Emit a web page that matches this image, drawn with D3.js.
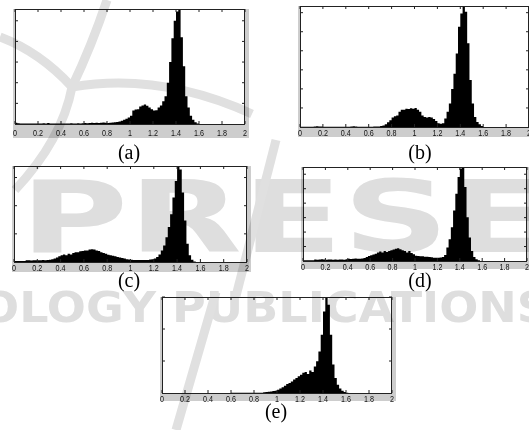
<!DOCTYPE html>
<html lang="en">
<head>
<meta charset="utf-8">
<title>Histograms (a)-(e)</title>
<style>
  body { margin: 0; background: #fff; }
  .tick-label { font-family: "Liberation Sans", Arial, sans-serif; font-size: 9px; fill: #111; }
  .caption { font-family: "Liberation Serif", "Times New Roman", serif; font-size: 20px; fill: #000; }
  .mark { font-family: "DejaVu Sans", sans-serif; font-weight: bold; fill: #dedede; }
</style>
</head>
<body>
<script src="https://cdn.jsdelivr.net/npm/d3@7/dist/d3.min.js"></script>
<script>

// bin width of every histogram, bins start at 0
var binWidth = 0.02;

var xTickLabels = ["0", "0.2", "0.4", "0.6", "0.8", "1", "1.2", "1.4", "1.6", "1.8", "2"];
var captions = ["(a)", "(b)", "(c)", "(d)", "(e)"];

// bin heights, in units of the (unlabelled) y tick step
var histA = [0.06,0.04,0.03,0.03,0.02,0.03,0.02,0.03,0.02,0.03,
             0.02,0.02,0.04,0.03,0.05,0.03,0.03,0.02,0.03,0.02,
             0.03,0.03,0.02,0.03,0.04,0.03,0.03,0.04,0.03,0.04,
             0.05,0.04,0.05,0.06,0.05,0.06,0.05,0.06,0.07,0.06,
             0.05,0.06,0.07,0.08,0.1,0.12,0.16,0.2,0.26,0.32,
             0.4,0.65,0.7,0.72,0.85,0.9,0.95,0.88,0.8,0.72,
             0.65,0.67,0.8,0.9,1.1,1.35,2.0,3.0,4.15,5.0,
             5.45,5.57,4.2,2.8,1.35,0.8,0.4,0.2,0.08,0.02];

var histB = [0.01,0.01,0.01,0.01,0.01,0.01,0.02,0.04,0.03,0.02,
             0.01,0.01,0.01,0.01,0.01,0.01,0.01,0.01,0.01,0.01,
             0.01,0.01,0.02,0.04,0.02,0.01,0.01,0.01,0.01,0.01,
             0.01,0.01,0.02,0.02,0.03,0.05,0.08,0.14,0.25,0.35,
             0.5,0.56,0.6,0.8,0.9,0.9,0.96,0.95,0.98,0.96,
             1.0,0.9,0.8,0.6,0.53,0.5,0.53,0.5,0.42,0.32,
             0.2,0.17,0.2,0.44,0.8,1.23,2.0,2.8,3.86,5.26,
             5.96,6.35,6.05,4.4,2.46,1.23,0.53,0.26,0.14,0.05];

var histC = [0.035,0.035,0.035,0.035,0.035,0.06,0.06,0.05,0.06,0.06,
             0.06,0.06,0.07,0.06,0.07,0.08,0.1,0.12,0.16,0.2,
             0.24,0.27,0.24,0.29,0.27,0.32,0.35,0.35,0.38,0.39,
             0.41,0.41,0.44,0.45,0.44,0.41,0.39,0.35,0.32,0.29,
             0.26,0.24,0.22,0.2,0.18,0.16,0.14,0.12,0.1,0.09,
             0.08,0.07,0.07,0.07,0.07,0.07,0.07,0.07,0.09,0.1,
             0.12,0.18,0.27,0.41,0.59,0.88,1.24,1.7,2.29,2.88,
             3.41,3.29,2.47,1.47,0.65,0.24,0.08,0.02];

var histD = [0.05,0.05,0.05,0.05,0.05,0.1,0.08,0.1,0.12,0.1,
             0.09,0.11,0.1,0.08,0.1,0.09,0.11,0.1,0.09,0.12,
             0.16,0.14,0.16,0.18,0.15,0.16,0.17,0.2,0.28,0.34,
             0.4,0.45,0.51,0.58,0.65,0.58,0.7,0.63,0.7,0.74,
             0.79,0.84,0.88,0.81,0.74,0.7,0.58,0.7,0.56,0.47,
             0.37,0.35,0.33,0.32,0.3,0.29,0.28,0.26,0.23,0.23,
             0.23,0.24,0.28,0.42,0.93,1.51,2.33,3.49,4.65,5.81,
             6.4,6.5,5.12,3.02,1.63,0.7,0.28,0.12,0.05];

var histE = [0,0,0,0,0,0,0,0,0,0,
             0,0,0,0,0,0,0,0,0,0,
             0,0,0,0,0,0,0,0,0,0,
             0.01,0.01,0.01,0.01,0.01,0.01,0.01,0.01,0.01,0.01,
             0.01,0.01,0.01,0.01,0.02,0.03,0.04,0.05,0.06,0.07,
             0.1,0.14,0.18,0.23,0.28,0.31,0.36,0.42,0.47,0.52,
             0.57,0.63,0.66,0.59,0.7,0.66,0.83,0.99,1.3,1.82,
             2.55,3.0,2.76,1.82,0.89,0.47,0.26,0.14,0.07,0.03,
             0.01];

var series = [histA, histB, histC, histD, histE];

// where each sub-figure sits on the page
var boxes = [
    { left: 15,  right: 245, top: 9,   bottom: 124, band: 14, labelDy: 12, capX: 129, capY: 159 },
    { left: 300, right: 529, top: 6,   bottom: 127, band: 10, labelDy: 9,  capX: 420, capY: 159 },
    { left: 14,  right: 247, top: 166, bottom: 262, band: 10, labelDy: 9,  capX: 129, capY: 287 },
    { left: 303, right: 527, top: 167, bottom: 261, band: 8,  labelDy: 9,  capX: 420, capY: 287 },
    { left: 162, right: 392, top: 297, bottom: 393, band: 8,  labelDy: 9,  capX: 276, capY: 418 }
];

var W = 529, H = 430;

var svg = d3.select("body").append("svg")
    .attr("width", W)
    .attr("height", H);

svg.append("rect").attr("width", W).attr("height", H).attr("fill", "#fff");

series.forEach(function (values, k) {
    var b = boxes[k];

    var x = d3.scaleLinear().domain([0, 2]).range([b.left, b.right]);
    var y = d3.scaleLinear().domain([0, d3.max(values)]).range([b.bottom, b.top]);

    var g = svg.append("g");

    // grey figure background around the axes
    g.append("rect")
        .attr("x", b.left - 2)
        .attr("y", b.top)
        .attr("width", b.right - b.left + 6)
        .attr("height", b.bottom - b.top + b.band)
        .attr("fill", "#cdcdcd");

    g.append("rect")
        .attr("x", b.left)
        .attr("y", b.top)
        .attr("width", b.right - b.left)
        .attr("height", b.bottom - b.top)
        .attr("fill", "#fff");

    var pts = values.map(function (v, i) { return [i * binWidth, v]; });
    pts.push([values.length * binWidth, 0]);

    var area = d3.area()
        .curve(d3.curveStepAfter)
        .x(function (d) { return x(d[0]); })
        .y0(y(0))
        .y1(function (d) { return y(d[1]); });

    g.append("path")
        .datum(pts)
        .attr("d", area)
        .attr("fill", "#000");

    // ticks on all four sides, pointing in
    var xt = xTickLabels.map(Number);
    var yt = d3.range(1, Math.floor(d3.max(values)) + 1);
    var tl = 3;

    g.selectAll(".xb").data(xt).enter().append("line")
        .attr("x1", function (d) { return x(d); }).attr("x2", function (d) { return x(d); })
        .attr("y1", b.bottom).attr("y2", b.bottom - tl)
        .attr("stroke", "#222");
    g.selectAll(".xt").data(xt).enter().append("line")
        .attr("x1", function (d) { return x(d); }).attr("x2", function (d) { return x(d); })
        .attr("y1", b.top).attr("y2", b.top + tl)
        .attr("stroke", "#222");
    g.selectAll(".yl").data(yt).enter().append("line")
        .attr("x1", b.left).attr("x2", b.left + tl)
        .attr("y1", function (d) { return y(d); }).attr("y2", function (d) { return y(d); })
        .attr("stroke", "#222");
    g.selectAll(".yr").data(yt).enter().append("line")
        .attr("x1", b.right).attr("x2", b.right - tl)
        .attr("y1", function (d) { return y(d); }).attr("y2", function (d) { return y(d); })
        .attr("stroke", "#222");

    g.append("rect")
        .attr("x", b.left + 0.5)
        .attr("y", b.top + 0.5)
        .attr("width", b.right - b.left - 1)
        .attr("height", b.bottom - b.top)
        .attr("fill", "none")
        .attr("stroke", "#222");

    g.selectAll(".tick-label").data(xTickLabels).enter().append("text")
        .attr("class", "tick-label")
        .attr("text-anchor", "middle")
        .attr("transform", function (d) {
            return "translate(" + x(+d) + "," + (b.bottom + b.labelDy) + ") scale(0.8,1)";
        })
        .text(function (d) { return d; });

    svg.append("text")
        .attr("class", "caption")
        .attr("x", b.capX)
        .attr("y", b.capY)
        .attr("text-anchor", "middle")
        .text(captions[k]);
});

// faint publisher watermark laid over the page
var wm = svg.append("g").style("mix-blend-mode", "multiply");

wm.append("text")
    .attr("class", "mark")
    .attr("x", 20).attr("y", 252)
    .attr("font-size", 100)
    .attr("textLength", 530)
    .attr("lengthAdjust", "spacingAndGlyphs")
    .text("PRESE");

wm.append("text")
    .attr("class", "mark")
    .attr("x", -20).attr("y", 322)
    .attr("font-size", 42)
    .attr("textLength", 570)
    .attr("lengthAdjust", "spacingAndGlyphs")
    .text("OLOGY PUBLICATIONS");

var arcs = ["M0,37 Q40,52 72,87", "M72,87 Q160,72 252,114", "M72,87 Q92,45 107,0",
            "M72,87 Q62,140 15,190", "M276,140 L236,296", "M216,292 L176,430"];
wm.selectAll("path").data(arcs).enter().append("path")
    .attr("d", function (d) { return d; })
    .attr("fill", "none")
    .attr("stroke", "#e0e0e0")
    .attr("stroke-width", 9);

</script>
</body>
</html>
